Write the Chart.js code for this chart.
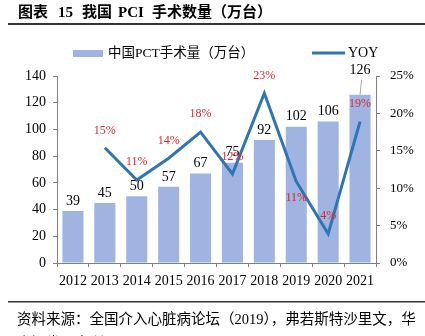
<!DOCTYPE html>
<html>
<head>
<meta charset="utf-8">
<script src="https://cdn.jsdelivr.net/npm/chart.js@4/dist/chart.umd.min.js"></script>
<style>
  html, body { margin: 0; padding: 0; background: #fff; }
  #c { display: block; }
</style>
</head>
<body>
<canvas id="c" width="425" height="336"></canvas>
<script>
// PCI procedure volume in China (10k procedures) and year-on-year growth
const years = ['2012', '2013', '2014', '2015', '2016', '2017', '2018', '2019', '2020', '2021'];
const pciVolume = [39, 45, 50, 57, 67, 75, 92, 102, 106, 126];
const yoyGrowth = [null, 15.4, 11.1, 14.0, 17.5, 11.9, 22.7, 10.9, 3.9, 18.9];
const yoyLabels = [null, '15%', '11%', '14%', '18%', '12%', '23%', '11%', '4%', '19%'];
const volumeTicks = { min: 0, max: 140, step: 20 };
const growthTicks = { min: 0, max: 25, step: 5 };

const titleWords = ['图表', '15', '我国', 'PCI', '手术数量（万台）'];
const sourceLines = ['资料来源：全国介入心脏病论坛（2019），弗若斯特沙里文，华', '泰证券研究所'];

// label placement (pixels) relative to the mark
const yoyLabelOffset = [0, -17, -18, -17, -18, -17, -17, 16, -18, -18];
const volumeLabelLift = [0, 0, 0, 0, 0, 0, 0, 0, 0, 14];
const titleWordX = [18, 58, 82, 118, 152];

const SERIF = '"Liberation Serif", "Noto Sans CJK SC", serif';
const BAR_COLOR = '#9fb4e0';
const LINE_COLOR = '#2e75b6';
const AXIS_COLOR = '#7f7f7f';
const RED = '#e0262b';

const decorations = {
  id: 'decorations',
  afterDatasetsDraw(chart) {
    const ctx = chart.ctx;
    const barMeta = chart.getDatasetMeta(0);
    const lineMeta = chart.getDatasetMeta(1);
    ctx.save();
    // bar values
    ctx.font = '14px ' + SERIF;
    ctx.fillStyle = '#000';
    ctx.textAlign = 'center';
    ctx.textBaseline = 'bottom';
    barMeta.data.forEach((bar, i) => {
      const lift = volumeLabelLift[i];
      const yBottom = bar.y - 3 - lift;
      ctx.fillText(String(pciVolume[i]), bar.x, yBottom);
      if (lift > 0) {
        ctx.strokeStyle = '#a6a6a6';
        ctx.lineWidth = 1;
        ctx.beginPath();
        ctx.moveTo(bar.x + 1.5, yBottom + 2);
        ctx.lineTo(bar.x, bar.y);
        ctx.stroke();
      }
    });
    // growth labels
    ctx.font = '12px ' + SERIF;
    ctx.fillStyle = RED;
    ctx.textBaseline = 'middle';
    lineMeta.data.forEach((pt, i) => {
      if (yoyLabels[i] == null || yoyGrowth[i] == null) return;
      ctx.fillText(yoyLabels[i], pt.x, pt.y + yoyLabelOffset[i]);
    });
    ctx.restore();
  },
  afterDraw(chart) {
    const ctx = chart.ctx;
    ctx.save();
    // title
    ctx.fillStyle = '#000';
    ctx.font = 'bold 15px "Liberation Serif", "Noto Sans CJK SC", serif';
    ctx.textAlign = 'left';
    ctx.textBaseline = 'middle';
    titleWords.forEach((w, i) => ctx.fillText(w, titleWordX[i], 13));
    ctx.fillStyle = '#333';
    ctx.fillRect(8, 23, 417, 2);

    // legend
    const ds = chart.data.datasets;
    ctx.fillStyle = BAR_COLOR;
    ctx.fillRect(73, 50, 30, 7);
    ctx.fillStyle = '#000';
    ctx.font = '13.5px ' + SERIF;
    ctx.fillText(ds[0].label, 108, 53);
    ctx.strokeStyle = LINE_COLOR;
    ctx.lineWidth = 3;
    ctx.beginPath();
    ctx.moveTo(312, 53);
    ctx.lineTo(345, 53);
    ctx.stroke();
    ctx.font = '14px ' + SERIF;
    ctx.fillText(ds[1].label, 348, 53);

    // source
    ctx.fillStyle = '#333';
    ctx.fillRect(8, 301, 417, 1.5);
    ctx.fillStyle = '#000';
    ctx.font = '14.5px ' + SERIF;
    ctx.fillText(sourceLines[0], 17, 320);
    ctx.fillText(sourceLines[1], 17, 344);
    ctx.restore();
  }
};

new Chart(document.getElementById('c'), {
  data: {
    labels: years,
    datasets: [
      {
        type: 'bar',
        label: '中国PCT手术量（万台）',
        data: pciVolume,
        backgroundColor: BAR_COLOR,
        yAxisID: 'y',
        categoryPercentage: 1,
        barPercentage: 0.66,
        order: 2
      },
      {
        type: 'line',
        label: 'YOY',
        data: yoyGrowth,
        borderColor: LINE_COLOR,
        borderWidth: 3,
        pointRadius: 0,
        tension: 0,
        yAxisID: 'y1',
        order: 1
      }
    ]
  },
  options: {
    responsive: false,
    devicePixelRatio: 1,
    animation: false,
    layout: { padding: { top: 76, left: 0, right: 0, bottom: 0 } },
    plugins: { legend: { display: false }, tooltip: { enabled: false }, title: { display: false } },
    scales: {
      x: {
        offset: true,
        grid: { display: true, offset: true, drawOnChartArea: false, tickLength: 4, color: AXIS_COLOR },
        border: { color: AXIS_COLOR, width: 1 },
        ticks: { font: { family: SERIF, size: 14 }, color: '#000', padding: 6, maxRotation: 0, autoSkip: false },
        afterFit(s) { s.height = 73; }
      },
      y: {
        position: 'left',
        min: volumeTicks.min,
        max: volumeTicks.max,
        grid: { display: true, drawOnChartArea: false, tickLength: 4, color: AXIS_COLOR },
        border: { color: AXIS_COLOR, width: 1 },
        ticks: { stepSize: volumeTicks.step, font: { family: SERIF, size: 14 }, color: '#000', padding: 7 },
        afterFit(s) { s.width = 57; }
      },
      y1: {
        position: 'right',
        min: growthTicks.min,
        max: growthTicks.max,
        grid: { display: true, drawOnChartArea: false, tickLength: 4, color: AXIS_COLOR },
        border: { color: AXIS_COLOR, width: 1 },
        ticks: { stepSize: growthTicks.step, font: { family: SERIF, size: 13 }, color: '#000', padding: 10,
                 callback: v => v + '%' },
        afterFit(s) { s.width = 49; }
      }
    }
  },
  plugins: [decorations]
});
</script>
</body>
</html>
